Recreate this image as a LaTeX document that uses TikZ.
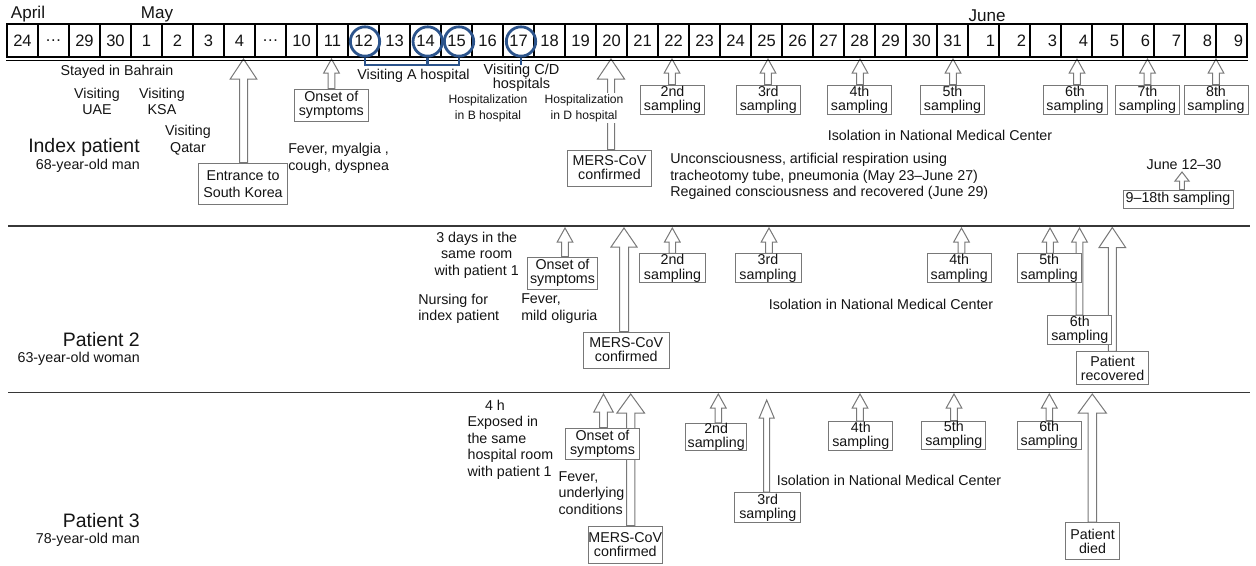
\documentclass[tikz,border=0pt]{standalone}
\usepackage{fontspec}
\setmainfont{Liberation Sans}
\usetikzlibrary{calc}
\pgfdeclarelayer{background}
\pgfsetlayers{background,main}
\definecolor{cblue}{RGB}{44,84,140}
\definecolor{bgray}{RGB}{120,120,120}
\definecolor{sepgray}{RGB}{55,55,55}
\definecolor{tcol}{RGB}{20,20,20}
\newcommand{\myfB}{\fontsize{10.7}{10.6}\selectfont}
\newcommand{\myfE}{\fontsize{10.7}{12.5}\selectfont}
\newcommand{\myfT}{\fontsize{10.7}{12.4}\selectfont}
\newcommand{\myfS}{\fontsize{9.1}{12}\selectfont}
\newcommand{\myfC}{\fontsize{10.9}{10.8}\selectfont}
\newcommand{\myfD}{\fontsize{12.4}{14}\selectfont}
\newcommand{\myfM}{\fontsize{12.8}{14}\selectfont}
\newcommand{\myfL}{\fontsize{14.6}{16}\selectfont}
% hollow up-arrow: tip coordinate, box node, head half width, head length, shaft half width (px)
\newcommand{\harrow}[5]{%
  \begin{pgfonlayer}{background}
  \draw[harr] let \p1=(#1), \p2=(#2.north) in
    (\x1,\y1) -- (\x1-#3*0.75pt,\y1-#4*0.75pt) -- (\x1-#5*0.75pt,\y1-#4*0.75pt)
    -- (\x1-#5*0.75pt,\y2) -- (\x1+#5*0.75pt,\y2) -- (\x1+#5*0.75pt,\y1-#4*0.75pt)
    -- (\x1+#3*0.75pt,\y1-#4*0.75pt) -- cycle;
  \end{pgfonlayer}}
\newcommand{\sarrow}[2]{\harrow{#1}{#2}{7.8}{14}{3.3}}
\begin{document}
\begin{tikzpicture}[x=0.75pt,y=-0.75pt,
  every node/.style={text=tcol},
  tbox/.style={draw=bgray, fill=white, line width=0.75pt, inner sep=0pt, align=center, font=\myfB},
  sbox/.style={tbox, minimum width=48pt, minimum height=21.75pt},
  harr/.style={draw=bgray, fill=white, line width=0.75pt, line join=miter},
  txt/.style={font=\myfT, inner sep=0pt, align=center},
  lt/.style={font=\myfT, inner sep=0pt, align=left},
  sm/.style={font=\myfS, inner sep=0pt, align=center},
  lab/.style={font=\myfL, inner sep=0pt, anchor=east},
  labs/.style={font=\myfT, inner sep=0pt, anchor=east},
  cell/.style={draw=black, line width=0.8pt, minimum width=23.25pt, minimum height=24.75pt, inner sep=0pt, font=\myfD},
  cbl/.style={draw=cblue, line width=2.1pt},
  sep/.style={draw=sepgray, line width=1.4pt}]
\useasboundingbox (0,0) rectangle (1256,565);

% ---------------- timeline ----------------
\foreach \t [count=\i from 0] in {24,…,29,30,1,2,3,4,…,10,11,12,13,14,15,16,17,18,19,20,21,22,23,24,25,26,27,28,29,30,31}
  \node[cell] (d\i) at ({7+31*\i+15.5},40.5) {\t};
\foreach \t [count=\i from 31] in {1,2,3,4,5,6,7,8,9}
  \node[cell, text width=17.25pt, align=right] (d\i) at ({7+31*\i+15.5},40.5) {\t};
\draw[line width=1.2pt] (d0.north west) rectangle (d39.south east);
\draw[line width=0.8pt] ([yshift=-2pt]d0.south west) -- ([yshift=-2pt]d39.south east);

\node[font=\myfM, inner sep=0pt] (apr) at (28,14) {April};
\node[font=\myfM, inner sep=0pt] (may) at (157,14) {May};
\node[font=\myfM, inner sep=0pt] (jun) at (987,15.5) {June};

% circles and brackets
\node[circle, cbl, minimum size=22pt, inner sep=0pt] (c12) at (365,41.5) {};
\node[circle, cbl, minimum size=22pt, inner sep=0pt] (c14) at (427.7,41.5) {};
\node[circle, cbl, minimum size=22pt, inner sep=0pt] (c15) at (459,41.5) {};
\node[circle, cbl, minimum size=22pt, inner sep=0pt] (c17) at (521,41.5) {};
\coordinate (brk) at ($(c12.south)+(0,7.5)$);
\draw[cbl] (c12.south) -- (brk) -| (c15.south);
\draw[cbl] (c14.south) -- (c14.south |- brk);
\draw[cbl] (c17.south) -- ++(0,7);

% ---------------- index patient ----------------
\node[txt] (bahr) at (117,72) {Stayed in Bahrain};
\node[txt] (uae) at (97,101.5) {Visiting\\UAE};
\node[txt] (ksa) at (162,101.5) {Visiting\\KSA};
\node[txt] (qat) at (188,140) {Visiting\\Qatar};
\node[lab] (idx) at (140,147) {Index patient};
\node[labs] (idxa) at (140,166) {68-year-old man};
\node[lt, anchor=west] (fev1) at (288,158.5) {Fever, myalgia ,\\cough, dyspnea};
\node[txt] (visA) at (413.5,76) {Visiting A hospital};
\node[font=\myfC, align=center, inner sep=0pt] (visCD) at (521.5,78) {Visiting C/D\\hospitals};
\node[sm] (hospB) at (488,108) {Hospitalization\\in B hospital};
\node[sm, fill=white, inner sep=1pt] (hospD) at (584,108) {Hospitalization\\in D hospital};
\node[txt] (iso1) at (940,135) {Isolation in National Medical Center};
\node[lt, anchor=west] (unc) at (670,176.5) {Unconsciousness, artificial respiration using\\tracheotomy tube, pneumonia (May 23–June 27)\\Regained consciousness and recovered (June 29)};
\node[txt] (j1230) at (1184,165) {June 12–30};

\node[tbox, minimum width=55.5pt, minimum height=24pt] (on1) at (331.3,105) {Onset of\\symptoms};
\node[tbox, font=\myfE, minimum width=67pt, minimum height=31.3pt] (ent) at (243,184) {Entrance to\\South Korea};
\node[tbox, minimum width=62.3pt, minimum height=27pt] (mers1) at (609.5,168) {MERS-CoV\\confirmed};
\node[sbox] (s2a) at (672.5,99.5) {2nd\\sampling};
\node[sbox] (s3a) at (768.3,99.5) {3rd\\sampling};
\node[sbox] (s4a) at (859.5,99.5) {4th\\sampling};
\node[sbox] (s5a) at (952.5,99.5) {5th\\sampling};
\node[sbox] (s6a) at (1075,99.5) {6th\\sampling};
\node[sbox] (s7a) at (1147.5,99.5) {7th\\sampling};
\node[sbox] (s8a) at (1216,99.5) {8th\\sampling};
\node[tbox, minimum width=82.5pt, minimum height=13.5pt] (s918) at (1178,199) {9–18th sampling};

\coordinate (te) at (243.5,59);
\coordinate (to1) at (331.5,59);
\coordinate (tm1) at (611,59);
\coordinate (t2a) at (672,59);
\coordinate (t3a) at (768,59);
\coordinate (t4a) at (860,59);
\coordinate (t5a) at (953,59);
\coordinate (t6a) at (1077,59);
\coordinate (t7a) at (1147.5,59);
\coordinate (t8a) at (1216,59);
\coordinate (t918) at (1182,172);
\harrow{te}{ent}{13.3}{20}{4}
\sarrow{to1}{on1}
\harrow{tm1}{mers1}{13.5}{20}{3.5}
\sarrow{t2a}{s2a}
\sarrow{t3a}{s3a}
\sarrow{t4a}{s4a}
\sarrow{t5a}{s5a}
\sarrow{t6a}{s6a}
\sarrow{t7a}{s7a}
\sarrow{t8a}{s8a}
\harrow{t918}{s918}{7}{9}{2.3}

% separators
\coordinate (sl1) at (8,226);
\coordinate (sr1) at (1250,226);
\coordinate (sl2) at (8,392.5);
\coordinate (sr2) at (1250,392.5);
\draw[sep] (sl1) -- (sr1);
\draw[sep] (sl2) -- (sr2);

% ---------------- patient 2 ----------------
\node[txt] (days) at (476.7,255.3) {3 days in the\\same room\\with patient 1};
\node[lt, anchor=west] (nurs) at (418,308.7) {Nursing for\\index patient};
\node[lt, anchor=west] (fev2) at (521,308.7) {Fever,\\mild oliguria};
\node[txt] (iso2) at (881,304.7) {Isolation in National Medical Center};
\node[lab] (p2) at (140,340) {Patient 2};
\node[labs] (p2a) at (140,359) {63-year-old woman};

\node[tbox, minimum width=52.5pt, minimum height=24pt] (on2) at (562.5,273) {Onset of\\symptoms};
\node[tbox, minimum width=64.5pt, minimum height=27pt] (mers2) at (626.3,350) {MERS-CoV\\confirmed};
\node[sbox, minimum width=49.5pt] (s2b) at (672.5,268.3) {2nd\\sampling};
\node[sbox, minimum width=49.5pt] (s3b) at (768,268.3) {3rd\\sampling};
\node[sbox] (s4b) at (959.2,268.3) {4th\\sampling};
\node[sbox] (s5b) at (1049.2,268.3) {5th\\sampling};
\node[sbox] (s6b) at (1079.8,330) {6th\\sampling};
\node[tbox, minimum width=53.7pt, minimum height=24.2pt] (rec) at (1112.5,368) {Patient\\recovered};

\coordinate (to2) at (565,228);
\coordinate (tm2) at (624,228);
\coordinate (t2b) at (672.3,228);
\coordinate (t3b) at (769,228);
\coordinate (t4b) at (961.5,228);
\coordinate (t5b) at (1050,228);
\coordinate (t6b) at (1079.5,228);
\coordinate (trec) at (1112.3,227.5);
\sarrow{to2}{on2}
\harrow{tm2}{mers2}{13}{19}{4.5}
\sarrow{t2b}{s2b}
\sarrow{t3b}{s3b}
\sarrow{t4b}{s4b}
\sarrow{t5b}{s5b}
\sarrow{t6b}{s6b}
\harrow{trec}{rec}{13.3}{20}{4}

% ---------------- patient 3 ----------------
\node[txt] (h4) at (495,405) {4 h};
\node[lt, anchor=west] (expo) at (467.3,447.7) {Exposed in\\the same\\hospital room\\with patient 1};
\node[lt, anchor=west] (fev3) at (558.3,492.7) {Fever,\\underlying\\conditions};
\node[txt] (iso3) at (889,480.7) {Isolation in National Medical Center};
\node[lab] (p3) at (140,521) {Patient 3};
\node[labs] (p3a) at (140,539.5) {78-year-old man};

\node[tbox, minimum width=55.2pt, minimum height=23.8pt] (on3) at (602.5,444) {Onset of\\symptoms};
\node[tbox, minimum width=54.5pt, minimum height=28pt] (mers3) at (625.3,544.7) {MERS-CoV\\confirmed};
\node[sbox, minimum width=45.8pt, minimum height=20.5pt] (s2c) at (716.2,437) {2nd\\sampling};
\node[sbox, minimum width=49.3pt, minimum height=22.5pt] (s3c) at (767.8,507.7) {3rd\\sampling};
\node[sbox] (s4c) at (860.8,436.2) {4th\\sampling};
\node[sbox, minimum height=21.2pt] (s5c) at (953.8,435.2) {5th\\sampling};
\node[sbox, minimum height=21.2pt] (s6c) at (1049.2,435.2) {6th\\sampling};
\node[tbox, minimum width=40.2pt, minimum height=27.5pt] (died) at (1092.5,541) {Patient\\died};

\coordinate (to3) at (603.5,394);
\coordinate (tm3) at (630.7,394);
\coordinate (t2c) at (718.3,394);
\coordinate (t3c) at (766.7,400);
\coordinate (t4c) at (860,394);
\coordinate (t5c) at (954,394);
\coordinate (t6c) at (1049.3,394);
\coordinate (tdied) at (1092.3,394);
\harrow{to3}{on3}{9.7}{18}{3.8}
\harrow{tm3}{mers3}{13.8}{19}{4.2}
\sarrow{t2c}{s2c}
\harrow{t3c}{s3c}{7.5}{18}{3}
\sarrow{t4c}{s4c}
\sarrow{t5c}{s5c}
\sarrow{t6c}{s6c}
\harrow{tdied}{died}{14}{19}{4.2}
\end{tikzpicture}
\end{document}
